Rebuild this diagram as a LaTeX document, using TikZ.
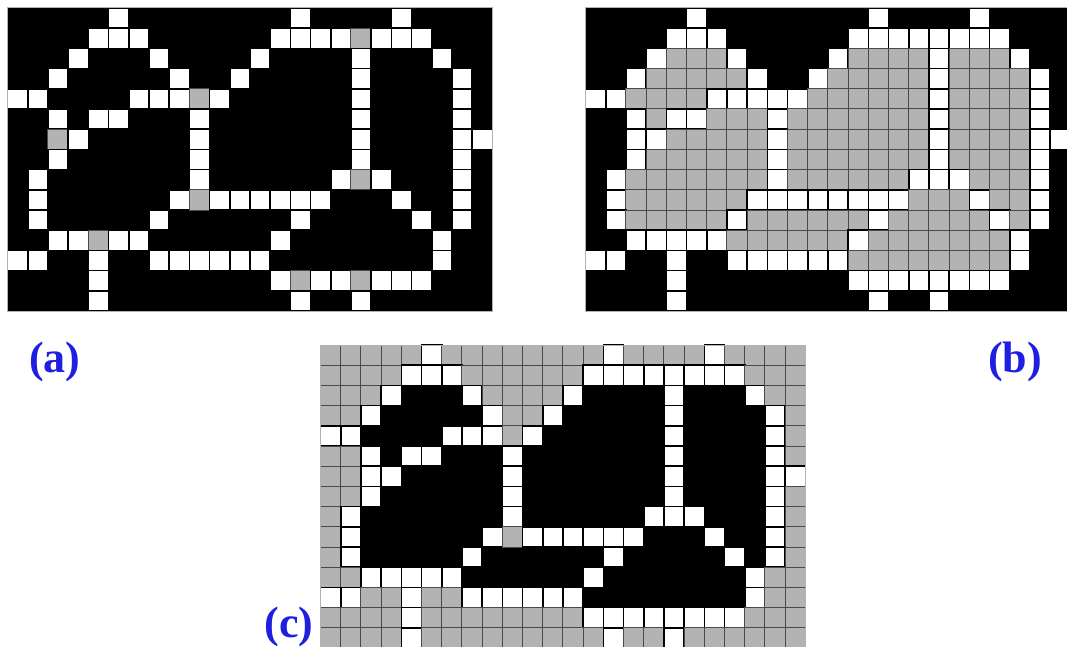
\documentclass[tikz,border=0pt]{standalone}
\usepackage{fontspec}
\setmainfont{Liberation Serif}
\usepackage{xcolor}
\usepackage{tikz}
\usetikzlibrary{positioning}
\definecolor{pixgris}{HTML}{B3B3B3}
\definecolor{pixtrait}{HTML}{4A4A4A}
\definecolor{tagbleu}{HTML}{1F1FE0}

\newcommand\pixsize{20.2}
\newcommand\pixrow[4]{%
  \def\pixx{#1}\def\pixy{#2}\def\pixr{#3}\def\pixc{0}%
  \expandafter\pixscan#4\relax}
\newcommand\pixscan[1]{%
  \ifx\relax#1\else
    \pixput{#1}%
    \pgfmathtruncatemacro\pixc{\pixc+1}%
    \expandafter\pixscan
  \fi}
\newcommand\pixput[1]{%
  \if G#1\filldraw[pixg] ({\pixx+\pixc*\pixsize},{\pixy+\pixr*\pixsize})
      rectangle ++(\pixsize,\pixsize);\fi
  \if W#1\filldraw[pixw] ({\pixx+\pixc*\pixsize},{\pixy+\pixr*\pixsize})
      rectangle ++(\pixsize,\pixsize);\fi}

\begin{document}
\begin{tikzpicture}[
    x=1pt,y=-1pt,
    fond/.style  = {fill=black},
    cadre/.style = {draw=black!30, line width=1pt},
    pixw/.style  = {fill=white, draw=black, line width=1.6pt},
    pixg/.style  = {fill=pixgris, draw=pixtrait, line width=1pt},
    tag/.style   = {font=\fontsize{44}{48}\selectfont\bfseries, text=tagbleu,
                    inner sep=0pt},
  ]
  \useasboundingbox (0,0) rectangle (1067,647);

  % Grille (a)
  \fill[fond] (7.5,8) rectangle ++(24*\pixsize,15*\pixsize);
  \foreach \p [count=\r from 0] in {
      BBBBBWBBBBBBBBWBBBBWBBBB,
      BBBBWWWBBBBBBWWWWGWWWBBB,
      BBBWBBBWBBBBWBBBBWBBBWBB,
      BBWBBBBBWBBWBBBBBWBBBBWB,
      WWBBBBWWWGWBBBBBBWBBBBWB,
      BBWBWWBBBWBBBBBBBWBBBBWB,
      BBGWBBBBBWBBBBBBBWBBBBWW,
      BBWBBBBBBWBBBBBBBWBBBBWB,
      BWBBBBBBBWBBBBBBWGWBBBWB,
      BWBBBBBBWGWWWWWWBBBWBBWB,
      BWBBBBBWBBBBBBWBBBBBWBWB,
      BBWWGWWBBBBBBWBBBBBBBWBB,
      WWBBWBBWWWWWWBBBBBBBBWBB,
      BBBBWBBBBBBBBWGWWGWWWBBB,
      BBBBWBBBBBBBBBWBBWBBBBBB}
    {\pixrow{7.5}{8}{\r}{\p}}
  \draw[cadre] (7.5,8) rectangle ++(24*\pixsize,15*\pixsize);

  % Grille (b)
  \fill[fond] (585.5,8) rectangle ++(24*\pixsize,15*\pixsize);
  \foreach \p [count=\r from 0] in {
      BBBBBWBBBBBBBBWBBBBWBBBB,
      BBBBWWWBBBBBBWWWWWWWWBBB,
      BBBWGGGWBBBBWGGGGWGGGWBB,
      BBWGGGGGWBBWGGGGGWGGGGWB,
      WWGGGGWWWWWGGGGGGWGGGGWB,
      BBWGWWGGGWGGGGGGGWGGGGWB,
      BBWWGGGGGWGGGGGGGWGGGGWW,
      BBWGGGGGGWGGGGGGGWGGGGWB,
      BWGGGGGGGWGGGGGGWWWGGGWB,
      BWGGGGGGWWWWWWWWGGGWGGWB,
      BWGGGGGWGGGGGGWGGGGGWGWB,
      BBWWWWWGGGGGGWGGGGGGGWBB,
      WWBBWBBWWWWWWGGGGGGGGWBB,
      BBBBWBBBBBBBBWWWWWWWWBBB,
      BBBBWBBBBBBBBBWBBWBBBBBB}
    {\pixrow{585.5}{8}{\r}{\p}}
  \draw[cadre] (585.5,8) rectangle ++(24*\pixsize,15*\pixsize);

  % Grille (c)
  \fill[fond] (320.5,345) rectangle ++(24*\pixsize,15*\pixsize);
  \foreach \p [count=\r from 0] in {
      GGGGGWGGGGGGGGWGGGGWGGGG,
      GGGGWWWGGGGGGWWWWWWWWGGG,
      GGGWBBBWGGGGWBBBBWBBBWGG,
      GGWBBBBBWGGWBBBBBWBBBBWG,
      WWBBBBWWWGWBBBBBBWBBBBWG,
      GGWBWWBBBWBBBBBBBWBBBBWG,
      GGWWBBBBBWBBBBBBBWBBBBWW,
      GGWBBBBBBWBBBBBBBWBBBBWG,
      GWBBBBBBBWBBBBBBWWWBBBWG,
      GWBBBBBBWGWWWWWWBBBWBBWG,
      GWBBBBBWBBBBBBWBBBBBWBWG,
      GGWWWWWBBBBBBWBBBBBBBWGG,
      WWGGWGGWWWWWWBBBBBBBBWGG,
      GGGGWGGGGGGGGWWWWWWWWGGG,
      GGGGWGGGGGGGGGWGGWGGGGGG}
    {\pixrow{320.5}{345}{\r}{\p}}
  \draw[cadre] (320.5,345) rectangle ++(24*\pixsize,15*\pixsize);

  % Etiquettes
  \node[tag] (taga) at (55,362)   {(a)};
  \node[tag] (tagb) at (1015,362) {(b)};
  \node[tag] (tagc) at (289,627)  {(c)};

\end{tikzpicture}
\end{document}
